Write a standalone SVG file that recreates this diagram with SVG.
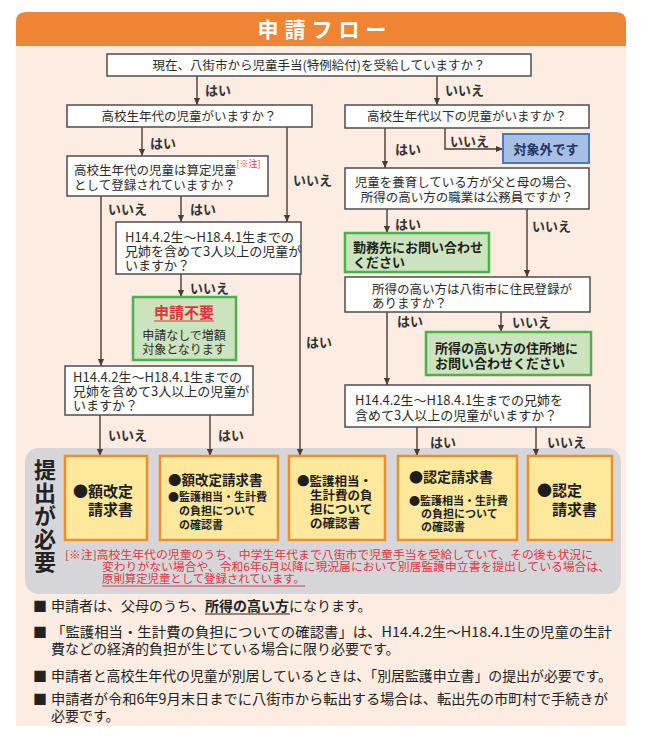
<svg xmlns="http://www.w3.org/2000/svg" width="650" height="750" viewBox="0 0 650 750">
<defs>
<marker id="ah" viewBox="0 0 8 8" refX="8" refY="4" markerWidth="8" markerHeight="7" markerUnits="userSpaceOnUse" orient="auto"><path d="M0,0.5 L8,4 L0,7.5 Z" fill="#4a3c35"/></marker>
<style>
text{font-family:"Noto Sans CJK JP","Noto Sans",sans-serif;fill:#2b2b2b}
.q{fill:#fff;stroke:#4d4d4d;stroke-width:1.5}
.g{fill:#cbe4bd;stroke:#4cb050;stroke-width:2.5}
.b{fill:#a8bfe5;stroke:#4a76c6;stroke-width:2}
.s{fill:#fee89c;stroke:#e8912d;stroke-width:2.5}
.t{font-size:12.5px}
.t13{font-size:13px}
.c{text-anchor:middle}
.lb{font-size:13px;font-weight:bold;fill:#333}
.gt{font-size:13px;font-weight:bold;fill:#1e1e1e}
.sb{font-weight:bold;fill:#1e1e1e}
.red{fill:#e5323b}
.note{font-size:11px;fill:#e5323b}
.ft{font-size:14px;fill:#222}
.v{font-size:22px;font-weight:bold;fill:#222}
#connectors path{fill:none;stroke:#4a3c35;stroke-width:1.4}
</style>
</defs>
<rect x="0" y="0" width="650" height="750" fill="#ffffff"/>
<path d="M16,46 V22 Q16,12 26,12 H616 Q626,12 626,22 V46 Z" fill="#ee8434"/>
<rect x="16" y="46" width="610" height="680" fill="#fcece1"/>
<text x="325" y="37" class="c" style="font-size:21px;font-weight:bold;fill:#fff;letter-spacing:6px">申請フロー</text>

<rect x="25" y="448" width="596" height="146" rx="14" fill="#d6d6da"/>

<g id="connectors">
<path d="M197,76 V105" marker-end="url(#ah)"/>
<path d="M437,76 V105" marker-end="url(#ah)"/>
<path d="M142,127 V156" marker-end="url(#ah)"/>
<path d="M287,127 V222" marker-end="url(#ah)"/>
<path d="M101,196 V366" marker-end="url(#ah)"/>
<path d="M181,196 V222" marker-end="url(#ah)"/>
<path d="M181,274 V297" marker-end="url(#ah)"/>
<path d="M300,274 V456" marker-end="url(#ah)"/>
<path d="M100,415 V456" marker-end="url(#ah)"/>
<path d="M210,415 V456" marker-end="url(#ah)"/>
<path d="M385,128 V168" marker-end="url(#ah)"/>
<path d="M445,128 V149 H503" marker-end="url(#ah)"/>
<path d="M387,209 V233" marker-end="url(#ah)"/>
<path d="M527,209 V277" marker-end="url(#ah)"/>
<path d="M387,312 V385" marker-end="url(#ah)"/>
<path d="M501,312 V332" marker-end="url(#ah)"/>
<path d="M417,427 V456" marker-end="url(#ah)"/>
<path d="M536,427 V456" marker-end="url(#ah)"/>
<text x="205" y="95" class="lb">はい</text>
<text x="445" y="95" class="lb">いいえ</text>
<text x="150" y="148" class="lb">はい</text>
<text x="293" y="185" class="lb">いいえ</text>
<text x="108" y="214" class="lb">いいえ</text>
<text x="190" y="214" class="lb">はい</text>
<text x="190" y="293" class="lb">いいえ</text>
<text x="306" y="347" class="lb">はい</text>
<text x="108" y="440" class="lb">いいえ</text>
<text x="218" y="440" class="lb">はい</text>
<text x="395" y="154" class="lb">はい</text>
<text x="450" y="146" class="lb">いいえ</text>
<text x="395" y="229" class="lb">はい</text>
<text x="532" y="231" class="lb">いいえ</text>
<text x="397" y="326" class="lb">はい</text>
<text x="512" y="327" class="lb">いいえ</text>
<text x="430" y="447" class="lb">はい</text>
<text x="547" y="447" class="lb">いいえ</text>
</g>

<g id="qA">
<rect x="107" y="54" width="424" height="22" class="q"/>
<text x="319" y="70" class="t c">現在、八街市から児童手当(特例給付)を受給していますか？</text>
</g>
<g id="qB">
<rect x="67" y="105" width="245" height="22" class="q"/>
<text x="189" y="121" class="t c">高校生年代の児童がいますか？</text>
</g>
<g id="qC">
<rect x="345" y="105" width="244" height="23" class="q"/>
<text x="467" y="121" class="t c">高校生年代以下の児童がいますか？</text>
</g>
<g id="qD">
<rect x="67" y="156" width="201" height="40" class="q"/>
<text class="t"><tspan x="74" y="175">高校生年代の児童は算定児童<tspan class="red" style="font-size:9px" dy="-8">[※注]</tspan></tspan><tspan x="74" y="190">として登録されていますか？</tspan></text>
</g>
<g id="qE">
<rect x="116" y="222" width="185" height="52" class="q"/>
<text class="t13"><tspan x="125" y="242">H14.4.2生～H18.4.1生までの</tspan><tspan x="125" y="256">兄姉を含めて3人以上の児童が</tspan><tspan x="125" y="270">いますか？</tspan></text>
</g>
<g id="nG">
<rect x="133" y="297" width="103" height="63" class="g"/>
<text x="184" y="318" class="c red" style="font-size:15px;font-weight:bold">申請不要</text>
<path d="M154,321 H214" stroke="#e5323b" stroke-width="1.2"/>
<text class="c" style="font-size:12px"><tspan x="184" y="340">申請なしで増額</tspan><tspan x="184" y="354">対象となります</tspan></text>
</g>
<g id="qF">
<rect x="65" y="366" width="188" height="49" class="q"/>
<text class="t13"><tspan x="73" y="382">H14.4.2生～H18.4.1生までの</tspan><tspan x="73" y="396">兄姉を含めて3人以上の児童が</tspan><tspan x="73" y="410">いますか？</tspan></text>
</g>
<g id="nOut">
<rect x="503" y="134" width="86" height="29" class="b"/>
<text x="546" y="154" class="c" style="font-size:13px;font-weight:bold;fill:#1f3460">対象外です</text>
</g>
<g id="qJ">
<rect x="345" y="168" width="244" height="41" class="q"/>
<text class="t c"><tspan x="467" y="187">児童を養育している方が父と母の場合、</tspan><tspan x="467" y="202">所得の高い方の職業は公務員ですか？</tspan></text>
</g>
<g id="nM">
<rect x="345" y="233" width="144" height="39" class="g"/>
<text class="gt"><tspan x="353" y="252">勤務先にお問い合わせ</tspan><tspan x="353" y="267">ください</tspan></text>
</g>
<g id="qH">
<rect x="345" y="277" width="245" height="35" class="q"/>
<text class="t"><tspan x="372" y="294">所得の高い方は八街市に住民登録が</tspan><tspan x="372" y="308">ありますか？</tspan></text>
</g>
<g id="nL">
<rect x="426" y="332" width="165" height="43" class="g"/>
<text class="gt"><tspan x="435" y="353">所得の高い方の住所地に</tspan><tspan x="435" y="368">お問い合わせください</tspan></text>
</g>
<g id="qK">
<rect x="345" y="385" width="245" height="42" class="q"/>
<text class="t13"><tspan x="355" y="405">H14.4.2生～H18.4.1生までの兄姉を</tspan><tspan x="355" y="420">含めて3人以上の児童がいますか？</tspan></text>
</g>

<g id="submit-label">
<text x="45" y="459" class="v" writing-mode="vertical-rl" style="letter-spacing:1px">提出が必要</text>
</g>
<g id="s1">
<rect x="65" y="456" width="82" height="84" class="s"/>
<text class="sb" style="font-size:15px"><tspan x="73" y="497">●額改定</tspan><tspan x="88" y="515">請求書</tspan></text>
</g>
<g id="s2">
<rect x="160" y="456" width="118" height="84" class="s"/>
<text class="sb" style="font-size:11px"><tspan x="168" y="485" style="font-size:13.5px">●額改定請求書</tspan><tspan x="168" y="501">●監護相当・生計費</tspan><tspan x="179" y="515">の負担について</tspan><tspan x="179" y="529">の確認書</tspan></text>
</g>
<g id="s3">
<rect x="289" y="456" width="96" height="84" class="s"/>
<text class="sb" style="font-size:12.5px"><tspan x="297" y="486">●監護相当・</tspan><tspan x="310" y="500">生計費の負</tspan><tspan x="310" y="514">担について</tspan><tspan x="310" y="528">の確認書</tspan></text>
</g>
<g id="s4">
<rect x="398" y="456" width="119" height="84" class="s"/>
<text class="sb" style="font-size:11px"><tspan x="409" y="482" style="font-size:14px">●認定請求書</tspan><tspan x="409" y="505">●監護相当・生計費</tspan><tspan x="421" y="518">の負担について</tspan><tspan x="421" y="531">の確認書</tspan></text>
</g>
<g id="s5">
<rect x="528" y="456" width="84" height="84" class="s"/>
<text class="sb" style="font-size:15px"><tspan x="537" y="496">●認定</tspan><tspan x="552" y="515">請求書</tspan></text>
</g>

<g id="note">
<text class="note"><tspan x="65" y="559" textLength="528" lengthAdjust="spacingAndGlyphs">[※注]高校生年代の児童のうち、中学生年代まで八街市で児童手当を受給していて、その後も状況に</tspan><tspan x="102" y="571" textLength="508" lengthAdjust="spacingAndGlyphs">変わりがない場合や、令和6年6月以降に現況届において別居監護申立書を提出している場合は、</tspan><tspan x="102" y="583" textLength="203" lengthAdjust="spacingAndGlyphs">原則算定児童として登録されています。</tspan></text>
<path d="M102,586 H305" stroke="#e5323b" stroke-width="1"/>
</g>

<g id="footnotes">
<text class="ft"><tspan x="33" y="611">■</tspan><tspan x="51" y="611">申請者は、父母のうち、</tspan><tspan font-weight="bold">所得の高い方</tspan><tspan>になります。</tspan></text>
<path d="M205,614 H290" stroke="#222" stroke-width="1"/>
<text class="ft"><tspan x="33" y="637">■</tspan><tspan x="51" y="637" textLength="561" lengthAdjust="spacingAndGlyphs">「監護相当・生計費の負担についての確認書」は、H14.4.2生～H18.4.1生の児童の生計</tspan><tspan x="51" y="654">費などの経済的負担が生じている場合に限り必要です。</tspan></text>
<text class="ft"><tspan x="33" y="681">■</tspan><tspan x="51" y="681" textLength="561" lengthAdjust="spacingAndGlyphs">申請者と高校生年代の児童が別居しているときは、「別居監護申立書」の提出が必要です。</tspan></text>
<text class="ft"><tspan x="33" y="704">■</tspan><tspan x="51" y="704" textLength="557" lengthAdjust="spacingAndGlyphs">申請者が令和6年9月末日までに八街市から転出する場合は、転出先の市町村で手続きが</tspan><tspan x="51" y="721">必要です。</tspan></text>
</g>
</svg>
